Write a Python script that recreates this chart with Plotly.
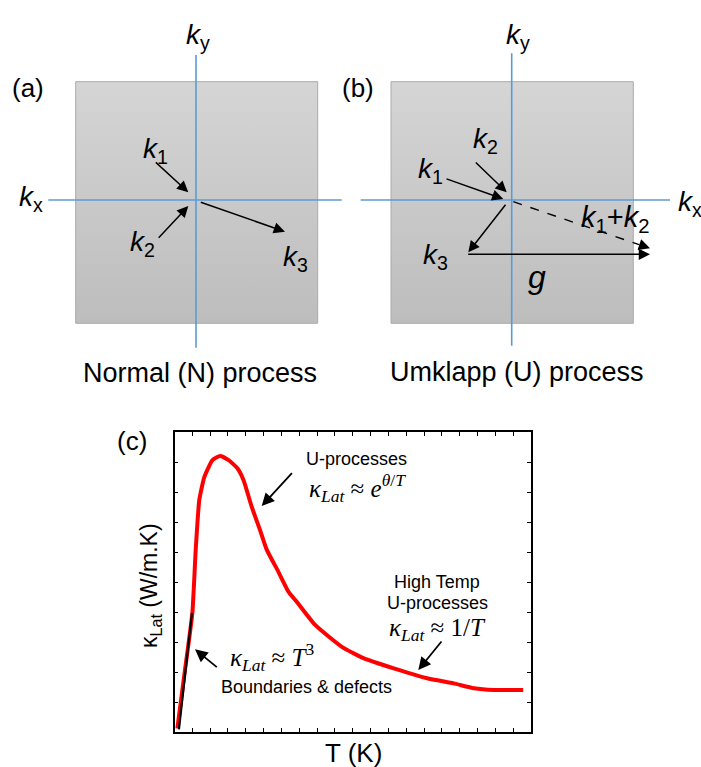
import plotly.graph_objects as go

W, H = 701, 767

# ---- data: lattice thermal conductivity curve (arbitrary units)
kappa_T = [0.16, 0.55, 1.0, 1.19, 1.39, 1.68, 2.14, 2.56, 3.02, 3.53, 3.87, 4.33, 4.8, 5.18,
           5.83, 6.39, 6.86, 7.89, 9.39, 10.6, 12.3, 14.17, 15.66, 16.8, 17.9, 19.56]
kappa_vals = [0.12, 1.9, 3.96, 6.07, 7.73, 8.51, 9.07, 9.2, 9.07, 8.79, 8.4, 7.51, 6.73, 6.07,
              5.34, 4.68, 4.34, 3.57, 2.84, 2.46, 2.12, 1.79, 1.62, 1.46, 1.4, 1.4]
t3_T = [0.25, 0.98]
t3_vals = [0.09, 3.96]

# ---- schematic geometry (pixel coordinates of the page)
sq_a = (75.7, 81.7, 317.7, 323.3)
sq_b = (391.0, 81.7, 633.3, 323.3)

SANS = "Liberation Sans, Arial, sans-serif"
SERIF = "Liberation Serif, DejaVu Serif, serif"
BLUE = "#5b9bd5"

fig = go.Figure()

# gradient squares
for (x0, y0, x1, y1) in (sq_a, sq_b):
    fig.add_trace(go.Scatter(
        x=[x0, x1, x1, x0, x0], y=[y0, y0, y1, y1, y0],
        mode="lines", line=dict(color="#ababab", width=1),
        fill="toself",
        fillgradient=dict(type="vertical",
                          colorscale=[[0, "#bdbdbd"], [1, "#d5d5d5"]],
                          start=y1, stop=y0),
        xaxis="x2", yaxis="y2", hoverinfo="skip", showlegend=False))

# dashed k1+k2 line
fig.add_trace(go.Scatter(x=[513.3, 639], y=[201.7, 244.6], mode="lines",
                         line=dict(color="black", width=1.4, dash="dash"),
                         xaxis="x2", yaxis="y2", hoverinfo="skip", showlegend=False))

# panel (c) curves
fig.add_trace(go.Scatter(x=kappa_T, y=kappa_vals, mode="lines",
                         line=dict(color="#ff0000", width=4, shape="spline", smoothing=0.5),
                         xaxis="x", yaxis="y", hoverinfo="skip", showlegend=False))
fig.add_trace(go.Scatter(x=t3_T, y=t3_vals, mode="lines",
                         line=dict(color="black", width=2.2),
                         xaxis="x", yaxis="y", hoverinfo="skip", showlegend=False))

shapes = []
# blue axes in panels a and b
for (x0, y0, x1, y1) in [(196, 55, 196, 347.7), (48.3, 200, 341.7, 200),
                         (511.7, 53.3, 511.7, 345.7), (360.7, 200, 670, 200)]:
    shapes.append(dict(type="line", xref="x2", yref="y2", x0=x0, y0=y0, x1=x1, y1=y1,
                       line=dict(color=BLUE, width=1.6), layer="above"))

annotations = []

def arrow(tail, head, width=1.5, size=1.5):
    annotations.append(dict(xref="x2", yref="y2", axref="x2", ayref="y2",
                            x=head[0], y=head[1], ax=tail[0], ay=tail[1],
                            text="", showarrow=True, arrowhead=2, arrowsize=size,
                            arrowwidth=width, arrowcolor="black"))

def label(x, y, text, size=22, family=SANS, angle=0):
    annotations.append(dict(xref="x2", yref="y2", x=x, y=y, text=text, showarrow=False,
                            xanchor="center", yanchor="middle", textangle=angle,
                            font=dict(family=family, size=size, color="black")))

K = lambda n: f"<i>k</i><sub>{n}</sub>"
SP = "&nbsp;"

# panel (a)
arrow((154.3, 161), (188.3, 192.3))
arrow((157.3, 239.3), (188.3, 206))
arrow((199.3, 201.7), (285, 231.7))
label(28, 88, "(a)", 26)
label(198, 36, K("y"), 28)
label(31, 198, K("x"), 28)
label(155, 150, K("1"), 28)
label(142, 243, K("2"), 28)
label(295, 258, K("3"), 28)
label(200, 373, "Normal (N) process", 27)

# panel (b)
arrow((474.3, 161), (506.7, 192.3))
arrow((445, 178.3), (503.3, 199))
arrow((506.7, 203.3), (468.3, 252.3))
arrow((466.7, 254.3), (650, 254.3))
arrow((638, 244.2), (650, 248.3))
label(358, 88, "(b)", 26)
label(518, 36, K("y"), 28)
label(690, 203, K("x"), 28)
label(485, 140, K("2"), 28)
label(430, 170, K("1"), 28)
label(435, 256, K("3"), 28)
label(615, 219, K("1") + "+" + K("2"), 29)
label(537, 277, "<i>g</i>", 32)
label(517, 372, "Umklapp (U) process", 27)

# panel (c)
arrow((293.3, 471.7), (261.7, 506), width=1.8, size=1.4)
arrow((218.3, 668.3), (195, 649.3), width=1.8, size=1.4)
arrow((442.7, 640), (418.3, 670), width=1.8, size=1.4)
label(132, 441, "(c)", 26)
label(353, 753, "T (K)", 26)
label(150, 586, "κ<sub>Lat</sub> (W/m.K)", 23, angle=-90)
label(356, 459, "U-processes", 18)
label(357, 488, f"<i>κ</i><sub><i>Lat</i></sub>{SP}≈{SP}<i>e</i><sup><i>θ</i>/<i>T</i></sup>", 25, SERIF)
label(437, 582, "High Temp", 18)
label(437, 603, "U-processes", 18)
label(437, 629, f"<i>κ</i><sub><i>Lat</i></sub>{SP}≈{SP}1/<i>T</i>", 25, SERIF)
label(272, 657, f"<i>κ</i><sub><i>Lat</i></sub>{SP}≈{SP}<i>T</i><sup>3</sup>", 25, SERIF)
label(306, 687, "Boundaries & defects", 18)

axis_c = dict(showline=True, linecolor="black", linewidth=1.5, mirror="ticks",
              ticks="inside", ticklen=4, tickwidth=1, tickcolor="black",
              showticklabels=False, showgrid=False, zeroline=False, dtick=1)

fig.update_layout(
    width=W, height=H, margin=dict(l=0, r=0, t=0, b=0),
    paper_bgcolor="white", plot_bgcolor="rgba(0,0,0,0)",
    showlegend=False,
    xaxis=dict(domain=[174.5 / W, 531 / W], range=[0, 20], anchor="y", **axis_c),
    yaxis=dict(domain=[1 - 732 / H, 1 - 432 / H], range=[0, 10], anchor="x", **axis_c),
    xaxis2=dict(domain=[0, 1], range=[0, W], visible=False, anchor="y2", fixedrange=True),
    yaxis2=dict(domain=[0, 1], range=[H, 0], visible=False, anchor="x2", fixedrange=True),
    shapes=shapes, annotations=annotations,
)

fig.write_html("out.html")
